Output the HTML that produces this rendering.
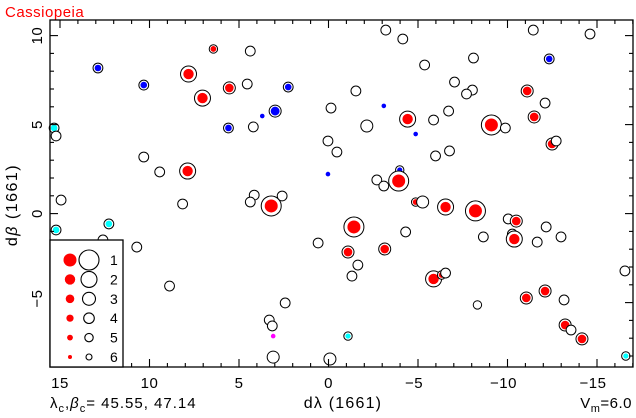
<!DOCTYPE html>
<html><head><meta charset="utf-8"><style>
html,body{margin:0;padding:0;background:#fff;}
svg{display:block;font-family:"Liberation Sans",sans-serif;}
</style></head><body>
<svg id="chart" width="636" height="418" viewBox="0 0 636 418" xmlns="http://www.w3.org/2000/svg">
<text x="5" y="17" fill="#ff0000" font-size="15" letter-spacing="0.5">Cassiopeia</text>
<g id="marks"></g>
<g id="axes"></g>
<rect x="50" y="20" width="583" height="347" fill="none" stroke="#000" stroke-width="1.3"/>
<g id="legend"></g>
<text x="50" y="408" font-size="15" letter-spacing="1">λ<tspan font-size="11" dy="4">c</tspan><tspan dy="-4">,</tspan><tspan font-style="italic">β</tspan><tspan font-size="11" dy="4">c</tspan><tspan dy="-4">=  45.55,  47.14</tspan></text>
<text x="343" y="408" font-size="16" letter-spacing="1.2" text-anchor="middle">dλ  (1661)</text>
<text transform="translate(17,205) rotate(-90)" font-size="16" letter-spacing="1.5" text-anchor="middle">d<tspan font-style="italic">β</tspan>  (1661)</text>
<text x="632" y="408" font-size="15" letter-spacing="0.5" text-anchor="end">V<tspan font-size="11" dy="4">m</tspan><tspan dy="-4">=6.0</tspan></text>
</svg>
<script>
const dl=[12.88,15.33,15.22,14.94,10.32,7.82,7.04,6.43,7.87,10.32,9.43,8.15,15.22,12.27,10.71,8.88,12.60,4.37,4.54,5.54,2.25,3.70,2.98,5.59,4.20,-3.20,-4.15,-1.53,-0.14,-3.09,-4.42,-2.14,-4.87,0.03,-0.47,0.03,-3.98,-3.92,-2.70,-3.09,4.15,4.37,3.20,2.59,-4.87,-5.26,-11.44,-14.61,-5.37,-8.10,-12.33,-7.04,-8.04,-7.71,-11.10,-12.10,-11.49,-6.71,-5.87,-9.10,-9.88,-12.49,-12.72,-5.98,-6.76,-6.54,-8.21,-10.04,-10.49,-12.16,-8.65,-10.27,-10.38,-11.66,-12.99,-16.56,-5.87,-6.32,-6.54,-8.32,-11.05,-12.10,-13.16,-13.22,-13.55,-14.16,-16.61,-1.42,-4.31,0.58,-1.09,-3.14,-1.64,-1.31,2.42,3.31,3.14,3.09,-1.09,3.09,-0.08];
const db=[8.18,4.81,4.36,0.76,7.22,7.84,6.49,9.25,2.39,3.18,2.34,0.54,-0.92,-0.58,-1.88,-4.07,-1.48,9.13,7.28,7.06,7.11,5.48,5.76,4.81,4.87,10.31,9.81,6.89,5.93,6.05,5.31,4.92,4.47,4.08,3.46,2.22,2.45,1.83,1.89,1.55,1.04,0.65,0.43,0.99,0.65,0.65,10.31,10.09,8.35,8.74,8.69,7.39,6.94,6.72,6.89,6.21,5.43,5.76,5.26,4.98,4.81,3.91,4.08,3.24,3.52,0.37,0.15,-0.30,-0.42,-0.75,-1.31,-1.15,-1.43,-1.60,-1.31,-3.22,-3.67,-3.45,-3.34,-5.13,-4.74,-4.35,-4.85,-6.26,-6.54,-7.04,-8.00,-0.75,-1.03,-1.65,-2.16,-1.99,-2.89,-3.51,-5.02,-5.98,-6.31,-6.88,-6.88,-8.06,-8.17];
const mag=[4,4,4,4,4,2,2,5,2,4,4,4,4,4,4,4,4,4,4,3,4,6,3,4,4,4,4,4,4,6,2,3,6,4,4,6,5,1,4,4,4,4,1,4,5,3,4,4,4,4,4,4,4,4,3,4,3,4,4,1,4,3,4,4,4,2,1,4,3,4,4,4,2,4,4,4,2,5,4,5,3,3,4,3,4,3,5,1,4,4,3,3,4,4,4,4,4,6,5,3,3];
const kind=["b","c","o","o","b","r","r","r","r","o","o","o","c","c","o","o","o","o","o","r","b","bd","b","b","o","o","o","o","o","bd","r","o","bd","o","o","bd","b","r","o","o","o","o","r","o","r","o","o","o","o","o","b","o","o","o","r","o","r","o","o","r","o","r","o","o","o","r","r","o","r","o","o","o","r","o","o","o","r","r","o","o","r","r","o","r","o","r","c","r","o","o","r","r","o","o","o","o","o","md","c","o","o"];
const xTicks=[15,10,5,0,-5,-10,-15];
const yTicks=[10,5,0,-5];
const legendLabels=["1","2","3","4","5","6"];

const NS="http://www.w3.org/2000/svg";
const X0=50,X1=633,Y0=20,Y1=367;
function sx(v){return 328.5-17.9*v;}
function sy(v){return 213.6-17.8*v;}
const RO=[10,8,6,4.9,4.2,3.1];
const RF=[6.5,5.2,4.3,3.6,2.9,2];
function mk(tag,attrs,parent){const e=document.createElementNS(NS,tag);for(const k in attrs)e.setAttribute(k,attrs[k]);parent.appendChild(e);return e;}
const colors={r:"#ff0000",b:"#0000ff",c:"#00ffff",bd:"#0000ff",md:"#ff00ff"};
const marks=document.getElementById('marks');
for(let i=0;i<dl.length;i++){
  const cx=sx(dl[i]),cy=sy(db[i]),m=mag[i]-1,k=kind[i];
  const g=mk('g',{},marks);
  
  
  if(k!=="bd"&&k!=="md"){
    mk('circle',{cx:cx,cy:cy,r:RO[m],fill:"#fff",stroke:"#000","stroke-width":1},g);
  }
  if(k!=="o"){
    let r=RF[m];
    if(k==="b"||k==="c") r=Math.max(2.5,RO[m]-1.6);
    if(k==="bd"||k==="md") r=RF[m]+0.3;
    mk('circle',{cx:cx,cy:cy,r:r,fill:colors[k]},g);
  }
}
const axes=document.getElementById('axes');
function tick(x1,y1,x2,y2){mk('line',{x1:x1,y1:y1,x2:x2,y2:y2,stroke:"#000","stroke-width":1.1},axes);}
for(let v=-17;v<=15;v++){
  const x=sx(v);if(x<X0||x>X1)continue;
  const L=(v%5===0)?8:4;
  tick(x,Y1,x,Y1-L);tick(x,Y0,x,Y0+L);
}
for(let v=-8;v<=10;v++){
  const y=sy(v);if(y<Y0||y>Y1)continue;
  const L=(v%5===0)?8:4;
  tick(X0,y,X0+L,y);tick(X1,y,X1-L,y);
}
xTicks.forEach(v=>{
  const t=mk('text',{x:sx(v)-(v<0?4:0),y:388,"font-size":15,"letter-spacing":0.5,"text-anchor":"middle"},axes);
  t.textContent=v<0?"\u2212"+(-v):String(v);
  
  
});
yTicks.forEach(v=>{
  const y=sy(v)+(v<0?-4:0);
  const t=mk('text',{transform:"translate(42,"+y+") rotate(-90)","font-size":15,"letter-spacing":0.5,"text-anchor":"middle"},axes);
  t.textContent=v<0?"\u2212"+(-v):String(v);
  
  
});
const lg=document.getElementById('legend');
mk('rect',{x:50,y:240,width:73,height:127,fill:"#fff",stroke:"#000","stroke-width":1.3},lg);
const LRO=[10,8,6.5,5.3,4.2,3];
legendLabels.forEach((lab,i)=>{
  const y=260+i*19.4;
  const g=mk('g',{},lg);
  
  
  mk('circle',{cx:70,cy:y,r:RF[i],fill:"#ff0000"},g);
  mk('circle',{cx:89,cy:y,r:LRO[i],fill:"none",stroke:"#000","stroke-width":1.1},g);
  const t=mk('text',{x:110,y:y+5,"font-size":14},g);
  t.textContent=lab;
});
</script>
</body></html>
